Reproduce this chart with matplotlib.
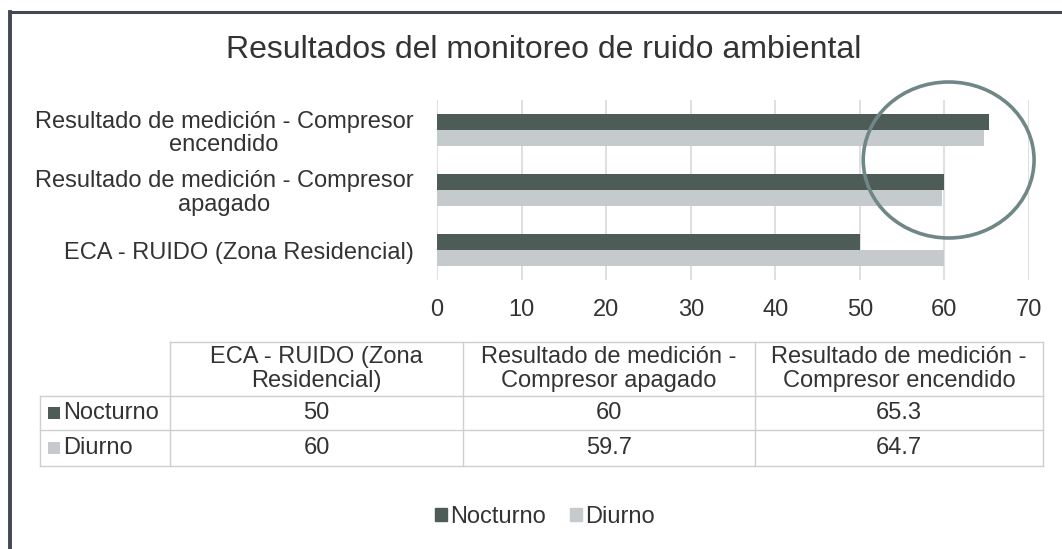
import matplotlib
matplotlib.use("Agg")
import matplotlib.pyplot as plt
import matplotlib.patches as mpatches
from matplotlib.lines import Line2D

plt.rcParams["font.family"] = ["Liberation Sans", "DejaVu Sans"]

TITLE = "Resultados del monitoreo de ruido ambiental"
series_names = ["Nocturno", "Diurno"]
axis_labels = [
    "ECA - RUIDO (Zona Residencial)",
    "Resultado de medición - Compresor\napagado",
    "Resultado de medición - Compresor\nencendido",
]
table_labels = [
    "ECA - RUIDO (Zona\nResidencial)",
    "Resultado de medición -\nCompresor apagado",
    "Resultado de medición -\nCompresor encendido",
]
nocturno = [50, 60, 65.3]
diurno = [60, 59.7, 64.7]
x_ticks = [0, 10, 20, 30, 40, 50, 60, 70]

DARK = "#4e5c57"
LIGHT = "#c5cacc"
TXT = "#333333"
GRID = "#d9d9d9"
W, H = 1062, 549


def fx(px):
    return px / W


def fy(py):
    return 1 - py / H


fig = plt.figure(figsize=(W / 100, H / 100), dpi=100)
fig.patch.set_facecolor("white")

# scanned page frame (top + left edge)
fig.add_artist(Line2D([fx(10), 1.0], [fy(12), fy(12)], color="#434953", lw=2.2))
fig.add_artist(Line2D([fx(10), fx(10)], [fy(12), 0.0], color="#434953", lw=2.8))

fig.text(fx(544), fy(50), TITLE, ha="center", va="center", fontsize=23, color=TXT)

ax = fig.add_axes([fx(437), fy(280), fx(1029) - fx(437), (280 - 100) / H])
ys = list(range(len(nocturno)))
bh = 0.26
ax.barh([y + bh / 2 for y in ys], nocturno, height=bh, color=DARK, zorder=3)
ax.barh([y - bh / 2 for y in ys], diurno, height=bh, color=LIGHT, zorder=3)
ax.set_xlim(0, 70)
ax.set_ylim(-0.5, 2.5)
ax.set_xticks(x_ticks)
ax.set_yticks(ys)
ax.set_yticklabels(axis_labels, linespacing=1.1)
for lab in ax.get_yticklabels():
    lab.set_multialignment("center")
ax.tick_params(axis="both", length=0, labelsize=17, labelcolor=TXT)
ax.tick_params(axis="y", pad=17)
ax.tick_params(axis="x", pad=14)
ax.grid(axis="x", color=GRID, lw=1.2, zorder=0)
for s in ax.spines.values():
    s.set_visible(False)

# hand-drawn circle highlighting the compressor results
ax.add_patch(mpatches.Ellipse((60.5, 1.5), 20.2, 2.6, fill=False,
                              edgecolor="#6f8786", lw=2.6, clip_on=False, zorder=4))

# data table under the chart
cols = [170, 463, 755, 1043]
rows = [342, 396, 430, 466]
lc = "#cfcfcf"
fig.add_artist(Line2D([fx(170), fx(1043)], [fy(342), fy(342)], color=lc, lw=1))
for r in rows[1:]:
    fig.add_artist(Line2D([fx(40), fx(1043)], [fy(r), fy(r)], color=lc, lw=1))
fig.add_artist(Line2D([fx(40), fx(40)], [fy(396), fy(466)], color=lc, lw=1))
for c in cols:
    fig.add_artist(Line2D([fx(c), fx(c)], [fy(342), fy(466)], color=lc, lw=1))

for i, lab in enumerate(table_labels):
    cx = (cols[i] + cols[i + 1]) / 2
    fig.text(fx(cx), fy(369), lab, ha="center", va="center", fontsize=17,
             color=TXT, linespacing=1.1, multialignment="center")
    fig.text(fx(cx), fy(413), f"{nocturno[i]:g}", ha="center", va="center",
             fontsize=17, color=TXT)
    fig.text(fx(cx), fy(448), f"{diurno[i]:g}", ha="center", va="center",
             fontsize=17, color=TXT)

for name, col, cy in [(series_names[0], DARK, 413), (series_names[1], LIGHT, 448)]:
    fig.add_artist(mpatches.Rectangle((fx(48), fy(cy + 6)), fx(12), 12 / H,
                                      facecolor=col, edgecolor="none"))
    fig.text(fx(63), fy(cy), name, ha="left", va="center", fontsize=17, color=TXT)

# legend
handles = [mpatches.Patch(color=DARK, label=series_names[0]),
           mpatches.Patch(color=LIGHT, label=series_names[1])]
fig.legend(handles=handles, loc="center", bbox_to_anchor=(fx(545), fy(517)),
           ncol=2, frameon=False, fontsize=17, handlelength=0.5, handleheight=0.5,
           handletextpad=0.15, columnspacing=1.0, labelcolor=TXT)

fig.savefig("out.png", dpi=100, facecolor="white")
